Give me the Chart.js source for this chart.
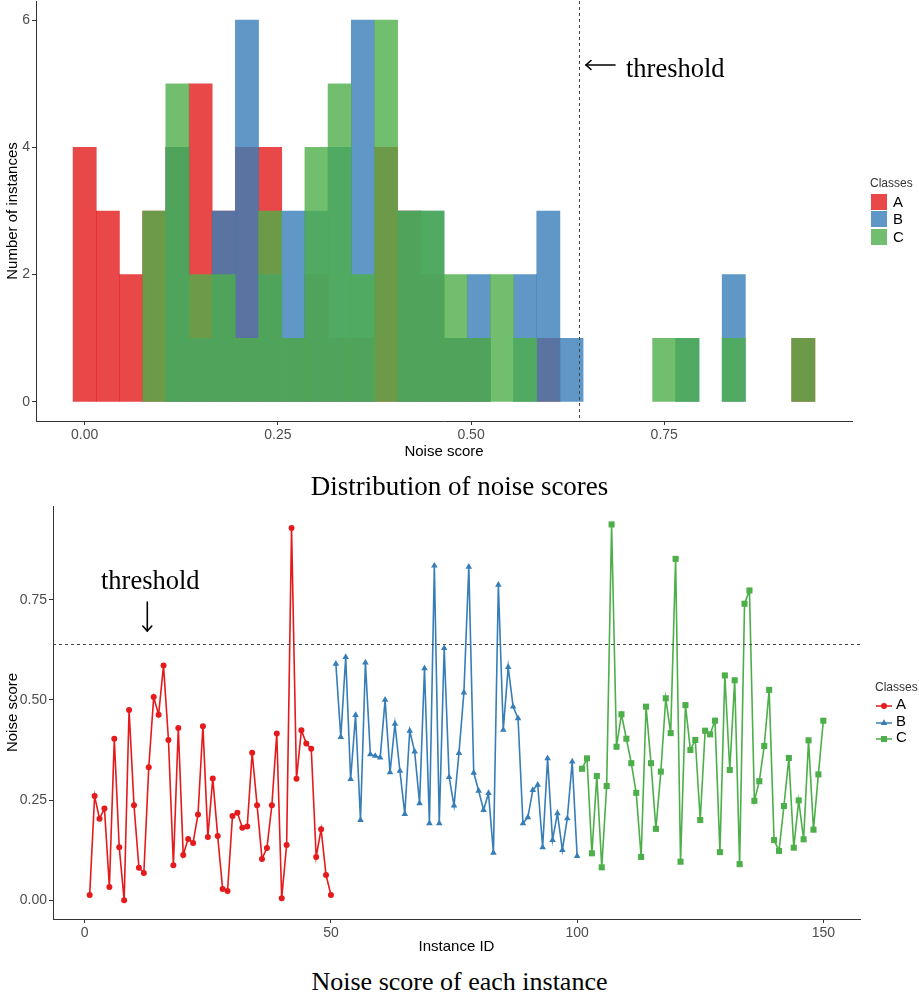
<!DOCTYPE html>
<html lang="en">
<head>
  <meta charset="UTF-8" />
  <title>Noise scores</title>
  <style>
    body { margin: 0; background: #fff; font-family: "Liberation Sans", Arial, sans-serif; }
    #page { position: relative; width: 919px; height: 996px; overflow: hidden; background: #fff; }
    canvas { position: absolute; left: 0; }
    #histChart { top: 0; }
    #lineChart { top: 500px; }
    .caption { position: absolute; left: 0; width: 919px; text-align: center; font-family: "Liberation Serif", "DejaVu Serif", serif; line-height: 27px; color: #000; white-space: nowrap; }
    .note { position: absolute; font-family: "Liberation Serif", "DejaVu Serif", serif; font-size: 26.5px; line-height: 26.5px; color: #000; white-space: nowrap; }
    .legend-title { position: absolute; font-size: 12px; line-height: 14px; color: #333; }
    .legend-label { position: absolute; font-size: 15px; line-height: 16px; color: #000; }
    .swatch { position: absolute; width: 16px; height: 16px; }
    svg.overlay { position: absolute; left: 0; top: 0; pointer-events: none; }
  </style>
</head>
<body>
<div id="page">
  <canvas id="histChart" width="919" height="464"></canvas>
  <canvas id="lineChart" width="919" height="459"></canvas>

  <div class="note" style="left:626px; top:55px;">threshold</div>
  <div class="note" style="left:101px; top:567px;">threshold</div>

  <div class="caption" style="top:473px; font-size:27px;">Distribution of noise scores</div>
  <div class="caption" style="top:968px; font-size:26px;">Noise score of each instance</div>

  <svg class="overlay" width="919" height="996">
    <g stroke="#000" stroke-width="1.6" fill="none" stroke-linecap="round">
      <line x1="586" y1="65" x2="615" y2="65" />
      <polyline points="591,60.5 586,65 591,69.5" />
      <line x1="147.3" y1="602" x2="147.3" y2="631" />
      <polyline points="142.8,626 147.3,631 151.8,626" />
    </g>
  </svg>

  <div id="legendTop"></div>
  <div id="legendBottom"></div>
</div>

<script src="https://cdn.jsdelivr.net/npm/chart.js"></script>
<script>
  // classes
  const classNames = ['A', 'B', 'C'];
  const lineColors = ['#E41A1C', '#377EB8', '#4DAF4A'];
  const fillColors = ['rgba(228,26,28,0.8)', 'rgba(55,126,184,0.8)', 'rgba(77,175,74,0.8)'];
  const pointStyles = ['circle', 'triangle', 'rect'];
  const pointRadii = [3, 3.8, 4.3];

  const threshold = 0.64;

  // histogram: bin centers (width 0.03) and counts per class
  const binCenters = [0.00, 0.03, 0.06, 0.09, 0.12, 0.15, 0.18, 0.21, 0.24, 0.27, 0.30, 0.33, 0.36, 0.39, 0.42, 0.45,
                      0.48, 0.51, 0.54, 0.57, 0.60, 0.63, 0.66, 0.69, 0.72, 0.75, 0.78, 0.81, 0.84, 0.87, 0.90, 0.93];
  const countsA = [4, 3, 2, 3, 4, 5, 3, 4, 4, 1, 2, 1, 1, 4, 3, 2, 1, 1, 0, 0, 1, 0, 0, 0, 0, 0, 0, 0, 0, 0, 0, 1];
  const countsB = [0, 0, 0, 0, 4, 1, 3, 6, 2, 3, 3, 4, 6, 0, 3, 3, 1, 2, 0, 2, 3, 1, 0, 0, 0, 0, 1, 0, 2, 0, 0, 0];
  const countsC = [0, 0, 0, 3, 5, 2, 2, 1, 3, 1, 4, 5, 2, 6, 3, 3, 2, 1, 2, 1, 0, 0, 0, 0, 0, 1, 1, 0, 1, 0, 0, 1];
  const histTicksX = [0, 0.25, 0.5, 0.75];
  const histTicksY = [0, 2, 4, 6];

  // noise score of each instance (ids 1-50 A, 51-100 B, 101-150 C)
  const firstIds = [1, 51, 101];
  const scoresA = [0.013, 0.26, 0.203, 0.229, 0.033, 0.403, 0.132, 0.0, 0.475, 0.237,
                   0.081, 0.068, 0.332, 0.507, 0.463, 0.586, 0.40, 0.087, 0.43, 0.113,
                   0.153, 0.143, 0.214, 0.434, 0.158, 0.304, 0.16, 0.028, 0.023, 0.21,
                   0.218, 0.181, 0.184, 0.368, 0.237, 0.103, 0.13, 0.237, 0.416, 0.005,
                   0.138, 0.929, 0.303, 0.424, 0.391, 0.378, 0.108, 0.177, 0.063, 0.013];
  const scoresB = [0.59, 0.407, 0.607, 0.302, 0.462, 0.20, 0.593, 0.364, 0.36, 0.356,
                   0.50, 0.319, 0.44, 0.323, 0.215, 0.423, 0.371, 0.242, 0.579, 0.192,
                   0.835, 0.192, 0.629, 0.307, 0.236, 0.367, 0.518, 0.832, 0.318, 0.273,
                   0.225, 0.267, 0.118, 0.787, 0.425, 0.582, 0.483, 0.454, 0.192, 0.207,
                   0.275, 0.288, 0.132, 0.354, 0.15, 0.217, 0.125, 0.204, 0.346, 0.11];
  const scoresC = [0.328, 0.354, 0.117, 0.31, 0.082, 0.285, 0.938, 0.383, 0.464, 0.403,
                   0.342, 0.268, 0.108, 0.483, 0.342, 0.178, 0.321, 0.504, 0.417, 0.852,
                   0.096, 0.487, 0.375, 0.40, 0.20, 0.423, 0.414, 0.448, 0.12, 0.561,
                   0.325, 0.549, 0.09, 0.74, 0.773, 0.248, 0.297, 0.385, 0.525, 0.15,
                   0.123, 0.235, 0.355, 0.131, 0.249, 0.152, 0.399, 0.176, 0.314, 0.448];
  const lineTicksX = [0, 50, 100, 150];
  const lineTicksY = [0, 0.25, 0.5, 0.75];

  const histCounts = [countsA, countsB, countsC];
  const lineScores = [scoresA, scoresB, scoresC];

  const sans = '"Liberation Sans", Arial, sans-serif';
  const tickFont = { family: sans, size: 14 };
  const titleFont = { family: sans, size: 15 };

  function fixedTicks(values) {
    return scale => { scale.ticks = values.map(v => ({ value: v })); };
  }

  // fixed axis box size, no extra label padding pushed into the layout
  function fixedSize(prop, size) {
    return scale => {
      scale[prop] = size;
      scale.paddingTop = 0;
      scale.paddingBottom = 0;
      scale.paddingLeft = 0;
      scale.paddingRight = 0;
    };
  }

  function axis(opts) {
    return {
      type: 'linear',
      min: opts.min,
      max: opts.max,
      offset: false,
      afterBuildTicks: fixedTicks(opts.ticks),
      afterFit: opts.fit,
      grid: { display: true, drawOnChartArea: false, drawTicks: true, tickLength: 4, color: '#333', offset: false },
      border: { display: true, color: '#333', width: 1 },
      ticks: { font: tickFont, color: '#4d4d4d', padding: 2, maxRotation: 0, autoSkip: false, callback: opts.format },
      title: { display: true, text: opts.title, font: titleFont, color: '#000', padding: { top: 4, bottom: 3 } }
    };
  }

  // dashed threshold line
  const thresholdLine = {
    id: 'thresholdLine',
    afterDatasetsDraw(chart, args, opts) {
      const { ctx, chartArea: a, scales } = chart;
      ctx.save();
      ctx.strokeStyle = '#444';
      ctx.lineWidth = 1;
      ctx.setLineDash([3, 3]);
      ctx.beginPath();
      if (opts.axis === 'x') {
        const px = Math.round(scales.x.getPixelForValue(threshold)) + 0.5;
        ctx.moveTo(px, a.top);
        ctx.lineTo(px, a.bottom);
      } else {
        const py = Math.round(scales.y.getPixelForValue(threshold)) + 0.5;
        ctx.moveTo(a.left, py);
        ctx.lineTo(a.right, py);
      }
      ctx.stroke();
      ctx.restore();
    }
  };

  // top: overlapping histogram (empty bins left out)
  new Chart(document.getElementById('histChart'), {
    type: 'bar',
    data: {
      datasets: classNames.map((name, i) => ({
        label: name,
        data: binCenters.map((x, k) => ({ x: x, y: histCounts[i][k] })).filter(d => d.y > 0),
        backgroundColor: fillColors[i],
        borderWidth: 0,
        grouped: false,
        barPercentage: 1,
        categoryPercentage: 1,
        order: 3 - i
      }))
    },
    options: {
      responsive: false,
      animation: false,
      layout: { padding: { left: 0, right: 67, top: 1, bottom: 0 } },
      plugins: { legend: { display: false }, tooltip: { enabled: false }, thresholdLine: { axis: 'x' } },
      scales: {
        x: axis({ min: -0.063, max: 0.993, ticks: histTicksX, title: 'Noise score',
                  fit: fixedSize('height', 43), format: v => Number(v).toFixed(2) }),
        y: axis({ min: -0.3, max: 6.3, ticks: histTicksY, title: 'Number of instances',
                  fit: fixedSize('width', 36), format: v => String(v) })
      }
    },
    plugins: [thresholdLine]
  });

  // bottom: noise score per instance
  new Chart(document.getElementById('lineChart'), {
    type: 'line',
    data: {
      datasets: classNames.map((name, i) => ({
        label: name,
        data: lineScores[i].map((y, j) => ({ x: firstIds[i] + j, y: y })),
        borderColor: lineColors[i],
        backgroundColor: lineColors[i],
        borderWidth: 1.6,
        pointStyle: pointStyles[i],
        pointRadius: pointRadii[i],
        pointBorderWidth: 0,
        tension: 0,
        fill: false
      }))
    },
    options: {
      responsive: false,
      animation: false,
      layout: { padding: { left: 0, right: 59, top: 6, bottom: 0 } },
      plugins: { legend: { display: false }, tooltip: { enabled: false }, thresholdLine: { axis: 'y' } },
      scales: {
        x: axis({ min: -6.45, max: 157.45, ticks: lineTicksX, title: 'Instance ID',
                  fit: fixedSize('height', 40), format: v => String(v) }),
        y: axis({ min: -0.047, max: 0.984, ticks: lineTicksY, title: 'Noise score',
                  fit: fixedSize('width', 53), format: v => Number(v).toFixed(2) })
      }
    },
    plugins: [thresholdLine]
  });

  // legends
  function legendTitle(parent, left, top) {
    const t = document.createElement('div');
    t.className = 'legend-title';
    t.style.left = left + 'px';
    t.style.top = top + 'px';
    t.textContent = 'Classes';
    parent.appendChild(t);
  }

  const legendTop = document.getElementById('legendTop');
  legendTitle(legendTop, 870, 176);
  classNames.forEach((name, i) => {
    const sw = document.createElement('div');
    sw.className = 'swatch';
    sw.style.left = '871px';
    sw.style.top = (193.5 + 17.5 * i) + 'px';
    sw.style.background = fillColors[i];
    legendTop.appendChild(sw);
    const lb = document.createElement('div');
    lb.className = 'legend-label';
    lb.style.left = '893px';
    lb.style.top = (193.5 + 17.5 * i) + 'px';
    lb.textContent = name;
    legendTop.appendChild(lb);
  });

  const legendBottom = document.getElementById('legendBottom');
  legendTitle(legendBottom, 875, 680);
  const markerSvg = [
    c => `<circle cx="8" cy="6" r="3" fill="${c}"/>`,
    c => `<polygon points="8,2.2 11.3,8 4.7,8" fill="${c}"/>`,
    c => `<rect x="5" y="3" width="6" height="6" fill="${c}"/>`
  ];
  classNames.forEach((name, i) => {
    const cy = 704.3 + 16.5 * i;
    const key = document.createElement('div');
    key.style.position = 'absolute';
    key.style.left = '875.5px';
    key.style.top = (cy - 6) + 'px';
    key.innerHTML = `<svg width="16" height="12"><line x1="0" y1="6" x2="16" y2="6" stroke="${lineColors[i]}" stroke-width="1.5"/>${markerSvg[i](lineColors[i])}</svg>`;
    legendBottom.appendChild(key);
    const lb = document.createElement('div');
    lb.className = 'legend-label';
    lb.style.left = '896px';
    lb.style.top = (cy - 8) + 'px';
    lb.textContent = name;
    legendBottom.appendChild(lb);
  });
</script>
</body>
</html>
